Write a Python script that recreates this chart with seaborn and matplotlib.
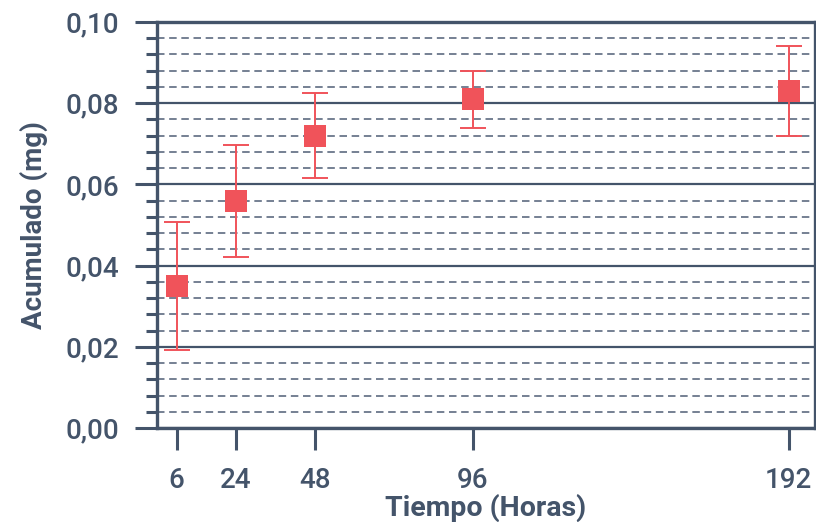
import matplotlib
matplotlib.use("Agg")
import matplotlib.pyplot as plt
import seaborn as sns
import pandas as pd
from matplotlib.ticker import FixedLocator, MultipleLocator, FuncFormatter

# Accumulated release over time
horas = [6, 24, 48, 96, 192]
acumulado = [0.035, 0.056, 0.072, 0.081, 0.083]
error = [0.0157, 0.0138, 0.0104, 0.0070, 0.0112]
xticks = [6, 24, 48, 96, 192]

slate = "#44546a"
grid_c = "#5d6b80"
red = "#f0535a"

sns.set_theme(style="white")
plt.rcParams["font.family"] = ["Roboto", "DejaVu Sans"]

df = pd.DataFrame({"Horas": horas, "Acumulado": acumulado, "Error": error})

fig = plt.figure(figsize=(8.16, 5.22), dpi=100)
ax = fig.add_axes([157 / 816, 94 / 522, 658 / 816, 406 / 522])

ax.set_xlim(0, 200)
ax.set_ylim(0, 0.10)

# grid: solid at majors, dashed at minors
ax.yaxis.set_major_locator(MultipleLocator(0.02))
ax.yaxis.set_minor_locator(MultipleLocator(0.004))
ax.grid(axis="y", which="major", color=slate, linewidth=1.6, linestyle="-", zorder=0)
ax.grid(axis="y", which="minor", color=grid_c, linewidth=1.2, linestyle=(0, (4.5, 2.8)), zorder=0)
ax.grid(axis="x", visible=False)
ax.set_axisbelow(True)

ax.errorbar(df["Horas"], df["Acumulado"], yerr=df["Error"], fmt="none",
            ecolor=red, elinewidth=1.4, capsize=9.5, capthick=1.4, zorder=3)
sns.scatterplot(data=df, x="Horas", y="Acumulado", marker="s", s=270,
                color=red, edgecolor=red, linewidth=0, ax=ax, zorder=4, legend=False)

ax.xaxis.set_major_locator(FixedLocator(xticks))
ax.set_xticklabels([str(v) for v in xticks])
ax.yaxis.set_major_formatter(FuncFormatter(lambda v, p: f"{v:.2f}".replace(".", ",")))

ax.tick_params(axis="x", which="major", direction="out", length=16, width=2.2,
               color=slate, labelcolor=slate, labelsize=20, pad=12, bottom=True)
ax.tick_params(axis="y", which="major", direction="out", length=16, width=2.2,
               color=slate, labelcolor=slate, labelsize=20, pad=11, left=True)
ax.tick_params(axis="y", which="minor", direction="out", length=8, width=2.2,
               color=slate, left=True)
for lab in ax.get_xticklabels() + ax.get_yticklabels():
    lab.set_fontweight("medium")

for s in ax.spines.values():
    s.set_visible(True)
    s.set_color(slate)
    s.set_linewidth(2.4)

ax.set_xlabel("Tiempo (Horas)", fontsize=20.5, fontweight="bold", color=slate)
ax.set_ylabel("Acumulado (mg)", fontsize=20, fontweight="bold", color=slate)
ax.xaxis.set_label_coords(0.5, -0.163)
ax.yaxis.set_label_coords(-0.166, 0.5)

fig.savefig("out.png", dpi=100)
